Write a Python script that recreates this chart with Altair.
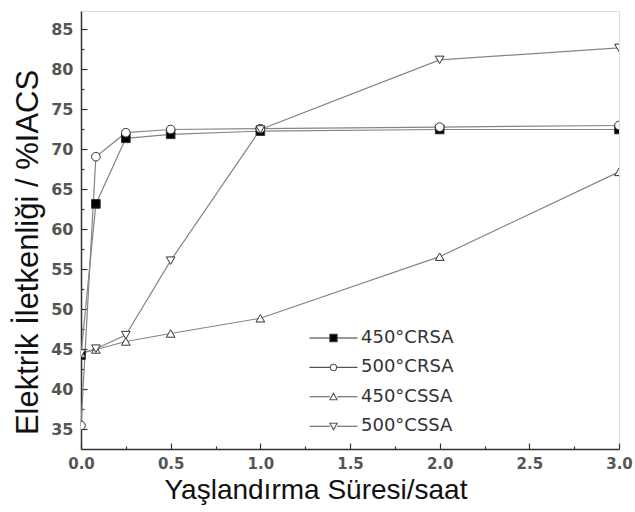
import altair as alt
import pandas as pd

# ---- data ----
series = ["450°CRSA", "500°CRSA", "450°CSSA", "500°CSSA"]
hours = [0.0, 0.083, 0.25, 0.5, 1.0, 2.0, 3.0]
crsa450 = [44.3, 63.2, 71.4, 71.9, 72.3, 72.5, 72.5]
crsa500 = [35.5, 69.1, 72.1, 72.5, 72.6, 72.8, 73.0]
cssa450 = [44.5, 45.0, 46.0, 47.0, 48.9, 56.6, 67.2]
cssa500 = [44.5, 45.1, 46.8, 56.1, 72.5, 81.2, 82.7]

x_major = [0.0, 0.5, 1.0, 1.5, 2.0, 2.5, 3.0]
x_minor = [0.25, 0.75, 1.25, 1.75, 2.25, 2.75]
y_major = [35, 40, 45, 50, 55, 60, 65, 70, 75, 80, 85]
y_minor = [37.5, 42.5, 47.5, 52.5, 57.5, 62.5, 67.5, 72.5, 77.5, 82.5]

rows = []
for name, vals in zip(series, [crsa450, crsa500, cssa450, cssa500]):
    for h, v in zip(hours, vals):
        rows.append({"series": name, "t": h, "v": v})
df = pd.DataFrame(rows)

W, H = 538, 438
xs = alt.Scale(domain=[0, 3], nice=False, zero=False)
ys = alt.Scale(domain=[32.56, 87.31], nice=False, zero=False)

marker_shapes = ["square", "circle", "triangle-up", "triangle-down"]
marker_fills = ["#000000", "#ffffff", "#ffffff", "#ffffff"]
legend_strokes = ["#333333", "#555555", "#555555", "#555555"]
seg = "M-4.8,0H-0.72M0.72,0H4.8"
legend_paths = [
    seg + "M-0.72,-0.72H0.72V0.72H-0.72Z",
    seg + "M0.62,0A0.62,0.62 0 1,1 -0.62,0A0.62,0.62 0 1,1 0.62,0Z",
    seg + "M0,-0.72L0.72,0.6L-0.72,0.6Z",
    seg + "M0,0.72L0.72,-0.6L-0.72,-0.6Z",
]

base = alt.Chart(df)

lines = base.mark_line(color="#858585", strokeWidth=1.2).encode(
    x=alt.X("t:Q", scale=xs, axis=alt.Axis(
        values=x_major, format=".1f", ticks=False, tickSize=0, grid=False,
        labelFlush=False,
        labelFont="DejaVu Sans", labelFontSize=15, labelFontWeight="bold",
        labelColor="#555555", labelPadding=7,
        domainColor="#333333", domainWidth=1.5,
        title="Yaşlandırma Süresi/saat", titleFont="Liberation Sans",
        titleFontSize=28, titleFontWeight="normal", titleColor="#111111",
        titleX=234.5, titleY=49, titleBaseline="alphabetic", titleAlign="center")),
    y=alt.Y("v:Q", scale=ys, axis=alt.Axis(
        values=y_major, ticks=False, tickSize=0, grid=False,
        labelFont="DejaVu Sans", labelFontSize=16, labelFontWeight="bold",
        labelColor="#555555", labelPadding=8,
        domainColor="#333333", domainWidth=1.5,
        title="Elektrik İletkenliği / %IACS", titleFont="Liberation Sans",
        titleFontSize=31, titleFontWeight="normal", titleColor="#111111",
        titleAngle=270, titleX=-53, titleY=241, titleAlign="center",
        titleBaseline="middle")),
    detail="series:N",
)

points = base.mark_point(filled=True, size=75, stroke="#333333",
                         strokeWidth=1, opacity=1, clip=True).encode(
    x=alt.X("t:Q", scale=xs, axis=alt.Axis(
        orient="top", offset=-H, values=x_major, tickSize=6, tickWidth=1.2,
        tickColor="#333333", labels=False, domain=False, grid=False, title=None)),
    y=alt.Y("v:Q", scale=ys, axis=alt.Axis(
        orient="right", offset=-W, values=y_major, tickSize=6, tickWidth=1.2,
        tickColor="#333333", labels=False, domain=False, grid=False, title=None)),
    shape=alt.Shape("series:N", scale=alt.Scale(domain=series, range=marker_shapes), legend=None),
    fill=alt.Fill("series:N", scale=alt.Scale(domain=series, range=marker_fills), legend=None),
)

leg = alt.Legend(orient="none", legendX=243.5, legendY=318, title=None,
                 symbolSize=100, symbolOpacity=1, symbolStrokeWidth=1.1,
                 labelFont="DejaVu Sans", labelFontSize=18, labelColor="#333333",
                 labelOffset=18.5, rowPadding=11.4)

legend_layer = base.mark_point(filled=False, size=0, strokeWidth=1).encode(
    x=alt.X("t:Q", scale=xs, axis=alt.Axis(
        orient="top", offset=-H, values=x_minor, tickSize=3, tickWidth=1.2,
        tickColor="#333333", labels=False, domain=False, grid=False, title=None)),
    y=alt.Y("v:Q", scale=ys, axis=alt.Axis(
        orient="right", offset=-W, values=y_minor, tickSize=3, tickWidth=1.2,
        tickColor="#333333", labels=False, domain=False, grid=False, title=None)),
    shape=alt.Shape("series:N", scale=alt.Scale(domain=series, range=legend_paths), legend=leg),
    fill=alt.Fill("series:N", scale=alt.Scale(domain=series, range=marker_fills), legend=leg),
    stroke=alt.Stroke("series:N", scale=alt.Scale(domain=series, range=legend_strokes), legend=leg),
)

chart = alt.layer(lines, points, legend_layer).resolve_scale(
    shape="independent", fill="independent", stroke="independent"
).resolve_axis(
    x="independent", y="independent"
).properties(
    width=W, height=H,
    autosize=alt.AutoSizeParams(type="none"),
    padding={"left": 81, "top": 11, "right": 16, "bottom": 63},
).configure_view(
    stroke="#333333", strokeWidth=1.5
).configure(background="#ffffff")

chart.save("out.html", embed_options={"renderer": "svg", "actions": False})
